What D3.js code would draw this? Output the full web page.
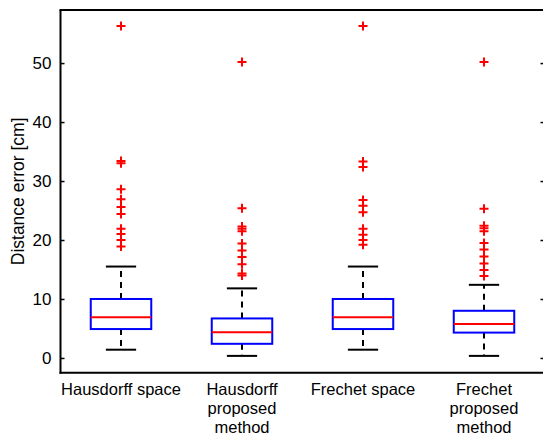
<!DOCTYPE html>
<html><head><meta charset="utf-8">
<script src="https://cdn.jsdelivr.net/npm/d3@7"></script>
<style>html,body{margin:0;padding:0;background:#fff;overflow:hidden}</style>
</head><body>
<script>
const categoryLines = [["Hausdorff space"], ["Hausdorff", "proposed", "method"], ["Frechet space"], ["Frechet", "proposed", "method"]];
const lowerWhisker = [1.4, 0.35, 1.4, 0.35];
const q1 = [4.9, 2.4, 4.9, 4.3];
const median = [6.9, 4.35, 6.9, 5.75];
const q3 = [10.0, 6.7, 10.0, 8.0];
const upperWhisker = [15.5, 11.8, 15.5, 12.4];
const outliers1 = [56.3, 33.4, 33.0, 28.6, 26.9, 25.6, 24.4, 21.9, 21.0, 20.0, 18.9];
const outliers2 = [50.2, 25.4, 22.3, 21.9, 21.5, 19.4, 18.2, 17.1, 15.9, 14.3, 14.0];
const outliers3 = [56.3, 33.3, 32.4, 26.8, 25.8, 24.7, 21.9, 20.9, 20.0, 19.2];
const outliers4 = [50.2, 25.3, 22.4, 22.0, 21.5, 19.5, 18.4, 17.2, 16.0, 14.9, 13.9];
const outliers = [outliers1, outliers2, outliers3, outliers4];
const yTicks = [0, 10, 20, 30, 40, 50];
const yLabel = "Distance error [cm]";

const W = 543, H = 437;
const svg = d3.select("body").append("svg").attr("width", W).attr("height", H);
const font = "Liberation Sans, Arial, sans-serif";

const x = d3.scaleLinear().domain([0.5, 4.5]).range([60.5, 544.5]);
const y = d3.scaleLinear().domain([-2.5, 59]).range([372.7, 10]);

const boxHalf = 0.25, capHalf = 0.125;

categoryLines.forEach((c, i) => {
  const cx = i + 1;
  const g = svg.append("g");
  g.append("line").attr("x1", x(cx)).attr("x2", x(cx)).attr("y1", y(q3[i])).attr("y2", y(upperWhisker[i]))
    .attr("stroke", "#000").attr("stroke-width", 2).attr("stroke-dasharray", "6,5");
  g.append("line").attr("x1", x(cx)).attr("x2", x(cx)).attr("y1", y(q1[i])).attr("y2", y(lowerWhisker[i]))
    .attr("stroke", "#000").attr("stroke-width", 2).attr("stroke-dasharray", "6,5");
  [upperWhisker[i], lowerWhisker[i]].forEach(v => {
    g.append("line").attr("x1", x(cx - capHalf)).attr("x2", x(cx + capHalf)).attr("y1", y(v)).attr("y2", y(v))
      .attr("stroke", "#000").attr("stroke-width", 2);
  });
  g.append("rect").attr("x", x(cx - boxHalf)).attr("width", x(cx + boxHalf) - x(cx - boxHalf))
    .attr("y", y(q3[i])).attr("height", y(q1[i]) - y(q3[i]))
    .attr("fill", "none").attr("stroke", "#0000ff").attr("stroke-width", 2);
  g.append("line").attr("x1", x(cx - boxHalf)).attr("x2", x(cx + boxHalf)).attr("y1", y(median[i])).attr("y2", y(median[i]))
    .attr("stroke", "#ff0000").attr("stroke-width", 2);
  outliers[i].forEach(v => {
    const px = x(cx), py = y(v), r = 4.5;
    g.append("path").attr("d", `M${px - r},${py}H${px + r}M${px},${py - r}V${py + r}`)
      .attr("stroke", "#ff0000").attr("stroke-width", 2).attr("fill", "none");
  });
  const t = svg.append("text").attr("font-family", font).attr("font-size", 16.5).attr("fill", "#000")
    .attr("text-anchor", "middle");
  c.forEach((line, k) => {
    t.append("tspan").attr("x", x(cx)).attr("y", 394.5 + k * 19.3).text(line);
  });
});

const x0 = x(0.5), x1 = x(4.5), yb = y(-2.5), yt = y(59);
svg.append("line").attr("x1", x0).attr("x2", x0).attr("y1", yt).attr("y2", yb + 1).attr("stroke", "#000").attr("stroke-width", 2);
svg.append("line").attr("x1", x0 - 1).attr("x2", x1).attr("y1", yb).attr("y2", yb).attr("stroke", "#000").attr("stroke-width", 2);
svg.append("line").attr("x1", x0 - 1).attr("x2", x1).attr("y1", yt).attr("y2", yt).attr("stroke", "#000").attr("stroke-width", 2);
svg.append("line").attr("x1", x1).attr("x2", x1).attr("y1", yt).attr("y2", yb).attr("stroke", "#000").attr("stroke-width", 2);

const yAxis = d3.axisLeft(y).tickValues(yTicks).tickSizeInner(-4).tickSizeOuter(0).tickPadding(9);
const ga = svg.append("g").attr("transform", `translate(${x0},0)`).call(yAxis);
ga.select(".domain").remove();
ga.selectAll(".tick line").attr("stroke", "#000").attr("stroke-width", 1.5);
ga.selectAll(".tick text").attr("font-family", font).attr("font-size", 17).attr("fill", "#000");
const yAxisR = d3.axisRight(y).tickValues(yTicks).tickSizeInner(-4).tickSizeOuter(0).tickFormat("");
const gr = svg.append("g").attr("transform", `translate(${x1},0)`).call(yAxisR);
gr.select(".domain").remove();
gr.selectAll(".tick line").attr("stroke", "#000").attr("stroke-width", 1.5);

svg.append("text").attr("transform", `translate(24,${(yt + yb) / 2}) rotate(-90)`)
  .attr("text-anchor", "middle").attr("font-family", font).attr("font-size", 17.5).attr("fill", "#000")
  .text(yLabel);
</script>
</body></html>
